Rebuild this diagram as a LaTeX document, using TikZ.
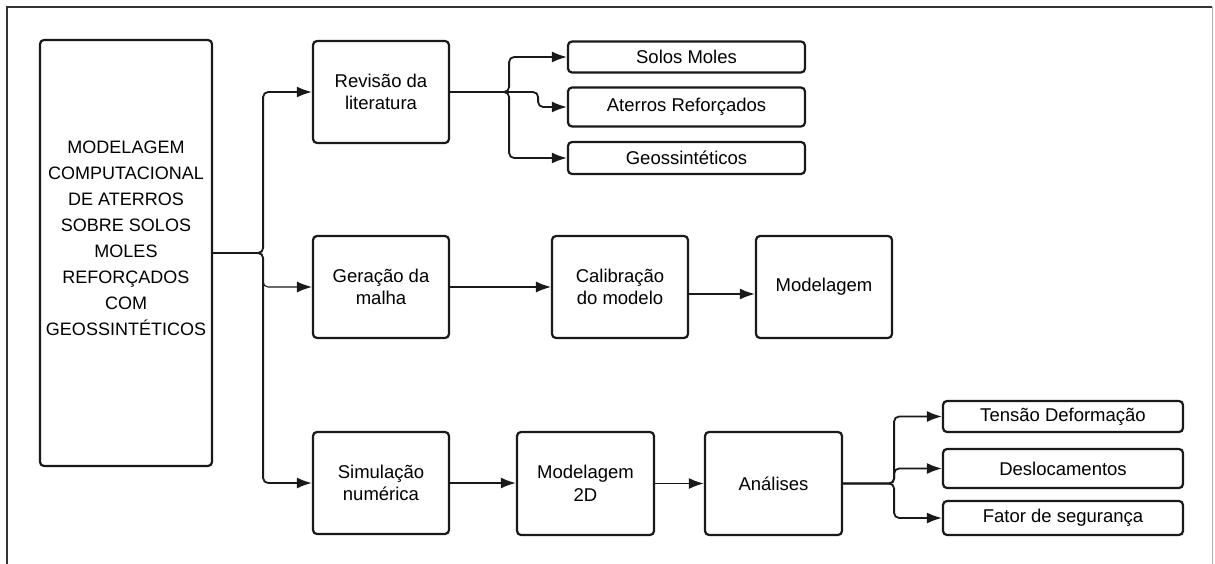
\documentclass[tikz,border=0pt]{standalone}
\usepackage{fontspec}
\setmainfont{Liberation Sans}
\usetikzlibrary{arrows.meta}
\begin{document}
\begin{tikzpicture}[x=1pt,y=-1pt,
  box/.style={draw=black!90, line width=2.2pt, rounded corners=4pt, align=center,
    inner sep=0pt, text=black, font=\fontsize{18.5}{22.5}\selectfont},
  bigbox/.style={box, minimum width=136pt, minimum height=102pt},
  leaf/.style={box, minimum width=237pt},
  leafr/.style={box, minimum width=240pt},
  conn/.style={line width=1.8pt, draw=black!90, rounded corners=5pt,
    -{Latex[length=15pt,width=11pt]}},
  thinconn/.style={conn, line width=1.1pt},
  frameline/.style={line width=1.2pt, draw=black!80},
  framelight/.style={line width=1pt, draw=black!30}]
\useasboundingbox (0,0) rectangle (1215,564);
\fill[white] (0,0) rectangle (1215,564);
% outer frame
\coordinate (fbl) at (7,564);
\coordinate (ftl) at (7,7);
\coordinate (ftr) at (1212,7);
\coordinate (fbr) at (1212,564);
\draw[frameline] (fbl) -- (ftl) -- (ftr);
\draw[framelight] (ftr) -- (fbr);

% main box
\node[box, minimum width=172pt, minimum height=426pt] (main) at (126,253) {};
\node[align=center, text=black, font=\fontsize{18}{26}\selectfont] (maintext) at (126,238)
  {MODELAGEM\\COMPUTACIONAL\\DE ATERROS\\SOBRE SOLOS\\MOLES\\REFORÇADOS\\COM\\GEOSSINTÉTICOS};

% column 2
\node[bigbox] (rev) at (381,92) {Revisão da\\literatura};
\node[bigbox] (ger) at (381,287) {Geração da\\malha};
\node[bigbox] (sim) at (381,483) {Simulação\\numérica};

% top leaves
\node[leaf, minimum height=31pt] (solos) at (686.5,57) {Solos Moles};
\node[leaf, minimum height=39pt] (aterros) at (686.5,107) {Aterros Reforçados};
\node[leaf, minimum height=32pt] (geo) at (686.5,158) {Geossintéticos};

% middle row
\node[bigbox] (cal) at (620,287) {Calibração\\do modelo};
\node[bigbox] (mod) at (824,287) {Modelagem};

% bottom row
\node[box, minimum width=137pt, minimum height=103pt] (m2d) at (585.5,483.5) {Modelagem\\2D};
\node[box, minimum width=137pt, minimum height=103pt] (ana) at (773.5,483.5) {Análises};

% bottom leaves
\node[leafr, minimum height=31pt] (tensao) at (1063,416.5) {Tensão Deformação};
\node[leafr, minimum height=39pt] (desl) at (1063,468.5) {Deslocamentos};
\node[leafr, minimum height=34pt] (fator) at (1063,518) {Fator de segurança};

% connectors from main
\draw[conn] (main.east) -- ++(50,0) |- (rev.west);
\draw[thinconn] (main.east) -- ++(50,0) |- (ger.west);
\draw[conn] (main.east) -- ++(50,0) |- (sim.west);

% connectors from revisão
\draw[conn] (rev.east) -- ++(59,0) |- (solos.west);
\draw[conn] (rev.east) -- ++(88,0) |- (aterros.west);
\draw[conn] (rev.east) -- ++(59,0) |- (geo.west);

% middle chain
\draw[thinconn] (ger.east) -- (cal.west);
\draw[conn] ([yshift=-7pt]cal.east) -- ([yshift=-7pt]mod.west);

% bottom chain
\draw[conn] (sim.east) -- (sim.east -| m2d.west);
\draw[conn] (m2d.east) -- (ana.west);

% connectors from análises
\draw[conn] (ana.east) -- ++(51,0) |- (tensao.west);
\draw[conn] (ana.east) -- ++(51,0) |- (desl.west);
\draw[conn] (ana.east) -- ++(51,0) |- (fator.west);
\end{tikzpicture}
\end{document}
